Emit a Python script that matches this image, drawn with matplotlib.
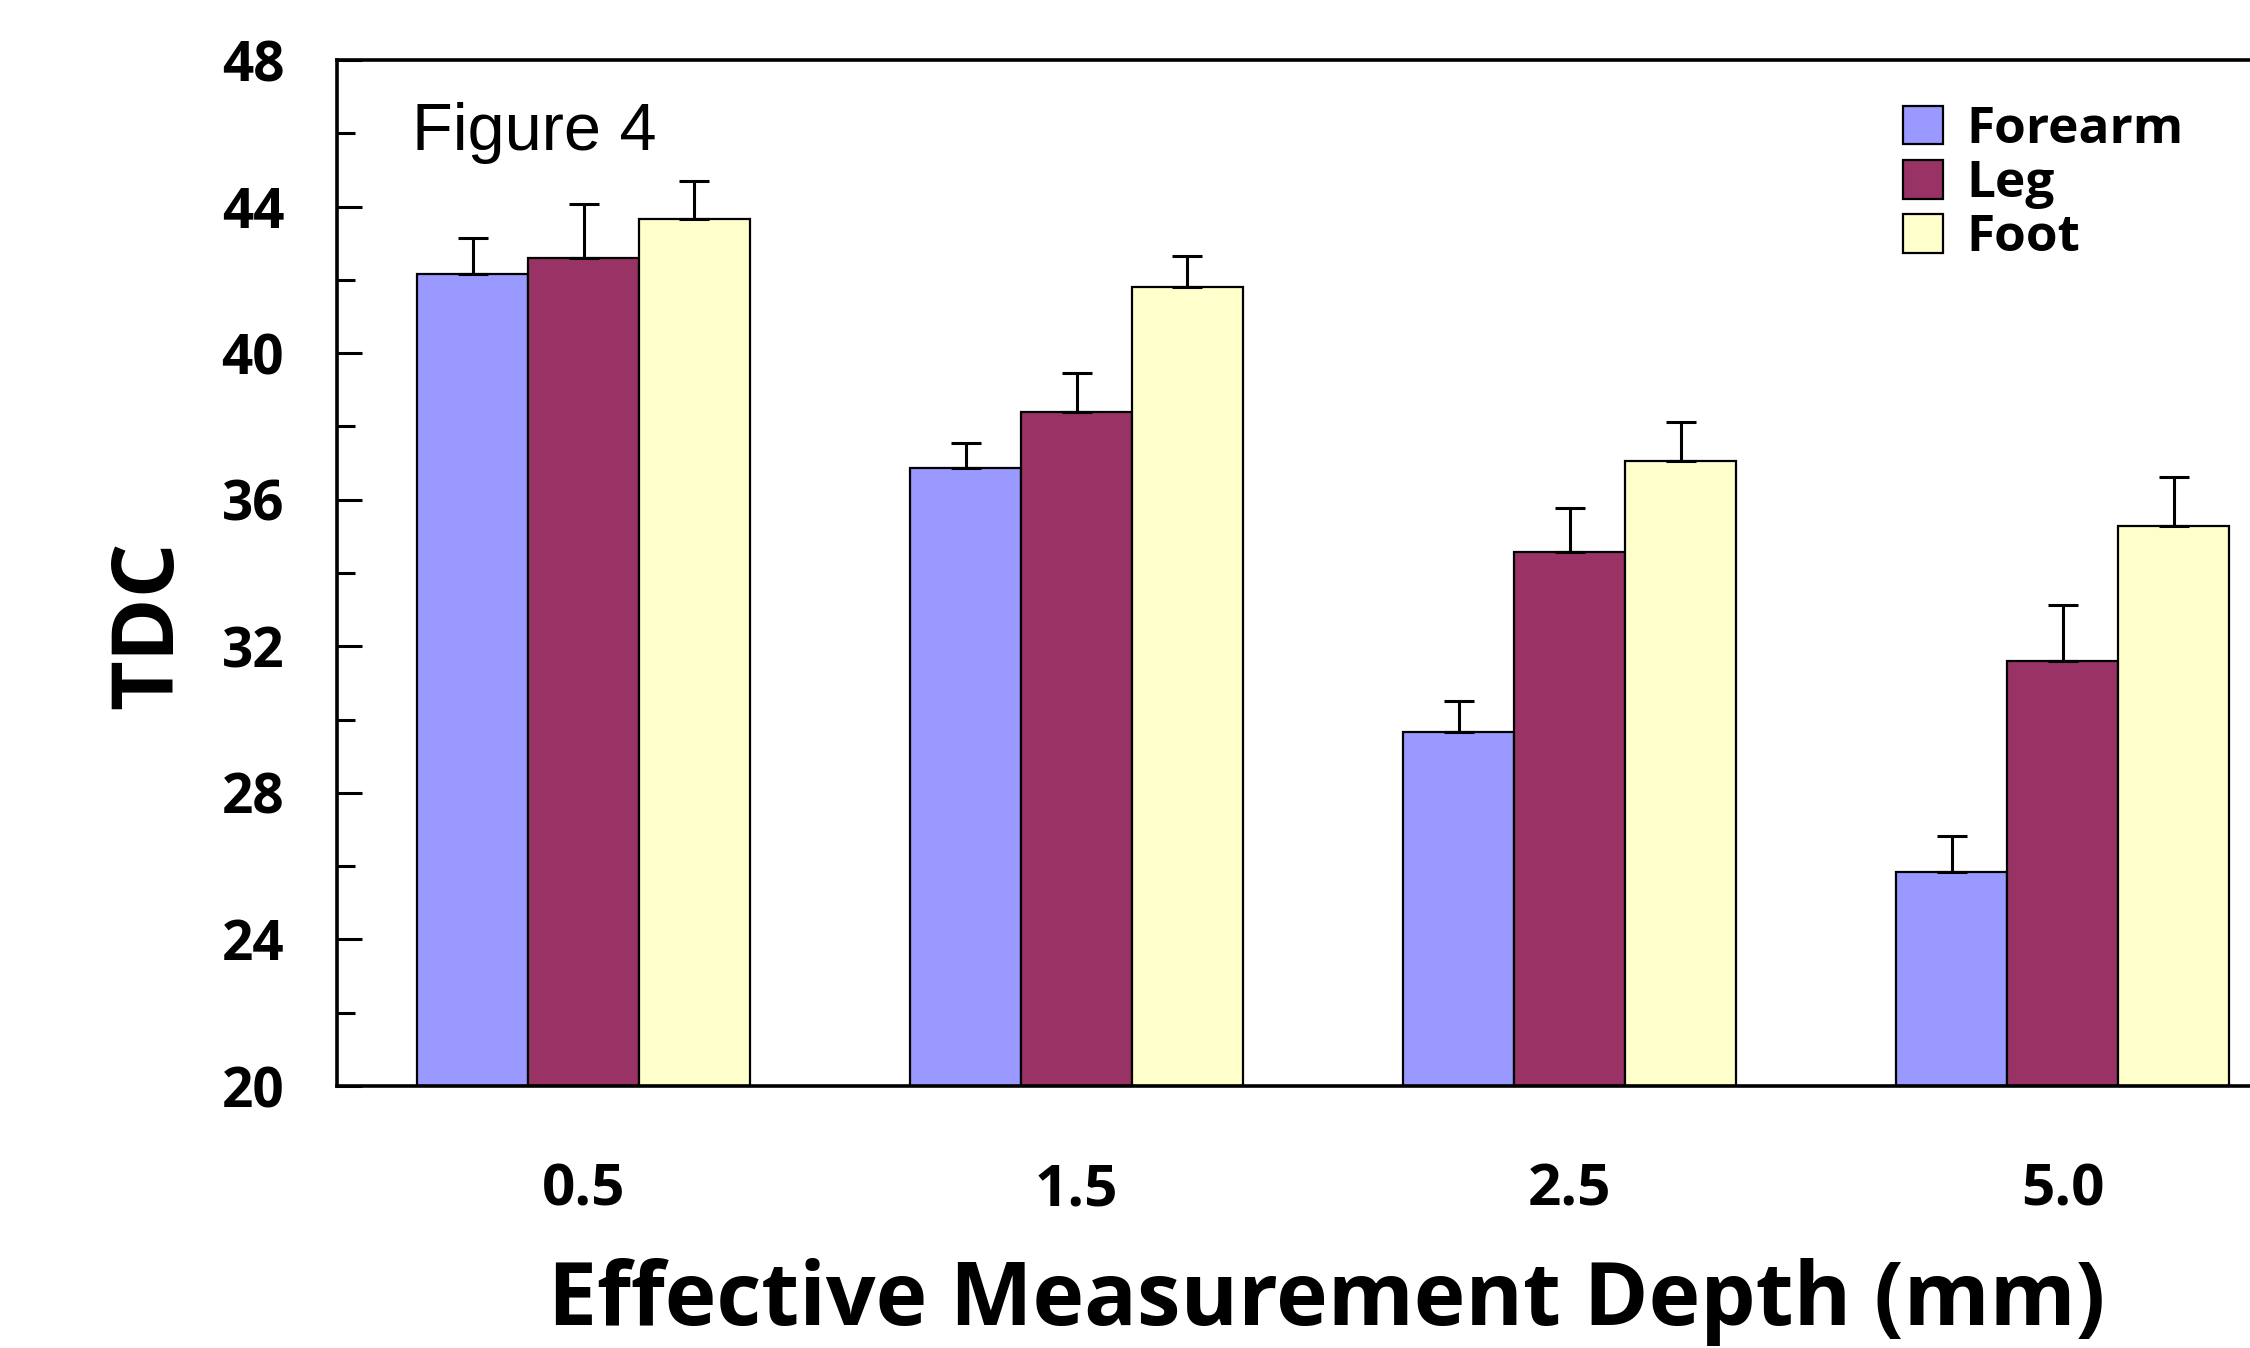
import matplotlib
matplotlib.use("Agg")
import matplotlib.pyplot as plt
import numpy as np
from matplotlib.ticker import MultipleLocator

depths = ["0.5", "1.5", "2.5", "5.0"]
series = ["Forearm", "Leg", "Foot"]
forearm = [42.16, 36.86, 29.67, 25.83]
leg = [42.59, 38.40, 34.57, 31.60]
foot = [43.65, 41.80, 37.06, 35.28]
forearm_err = [0.99, 0.70, 0.84, 1.00]
leg_err = [1.49, 1.07, 1.21, 1.54]
foot_err = [1.06, 0.86, 1.05, 1.35]
colors = ["#9999FF", "#993366", "#FFFFCC"]

W, H = 2250, 1348
fig = plt.figure(figsize=(W / 100, H / 100), dpi=100)
ax = fig.add_axes([337 / W, 1 - 1086 / H, (W - 337) / W, (1086 - 60) / H])

bold = dict(family=["Open Sans", "DejaVu Sans"], weight="bold")

x = np.arange(len(depths))
bw = 0.225
vals = [forearm, leg, foot]
errs = [forearm_err, leg_err, foot_err]
for i, (v, e, c, name) in enumerate(zip(vals, errs, colors, series)):
    pos = x + (i - 1) * bw
    ax.bar(pos, np.array(v) - 20, bottom=20, width=bw, color=c, edgecolor="black",
           linewidth=1.6, label=name, zorder=2)
    ax.errorbar(pos, v, yerr=[np.zeros(len(e)), e], fmt="none", ecolor="black",
                elinewidth=2.2, capsize=11, capthick=2.2, zorder=3)

ax.set_xlim(-0.5, 3.38)
ax.set_ylim(20, 48)
ax.yaxis.set_major_locator(MultipleLocator(4))
ax.yaxis.set_minor_locator(MultipleLocator(2))
ax.set_xticks(x)
ax.set_xticklabels(depths, fontsize=42, **bold)
ax.tick_params(axis="y", which="major", direction="in", length=18, width=2.2,
               pad=38, labelsize=39.5)
ax.tick_params(axis="y", which="minor", direction="in", length=13, width=2.2)
ax.tick_params(axis="x", length=0, pad=54)
for lab in ax.get_yticklabels():
    lab.set_fontfamily(["Open Sans", "DejaVu Sans"])
    lab.set_fontweight("bold")

for s in ["left", "top", "bottom"]:
    ax.spines[s].set_linewidth(2.6)
ax.spines["right"].set_visible(False)

fig.text(1327 / W, 1 - 1325 / H, "Effective Measurement Depth (mm)", fontsize=63,
         ha="center", va="baseline", **bold)
fig.text(150 / W, 1 - 625 / H, "TDC", fontsize=62, rotation=90, ha="center",
         va="center", **bold)
fig.text(412 / W, 1 - 150 / H, "Figure 4", fontsize=48, ha="left", va="baseline",
         family=["Liberation Sans", "DejaVu Sans"])

leg_ = ax.legend(loc="upper left", bbox_to_anchor=(1903 / W, 1 - 105 / H),
                 bbox_transform=fig.transFigure, frameon=False, borderpad=0,
                 borderaxespad=0, handlelength=0.78, handleheight=0.78,
                 handletextpad=0.45, labelspacing=0.08,
                 prop=dict(family=["Open Sans", "DejaVu Sans"], weight="bold", size=37))
for h in leg_.legend_handles:
    h.set_linewidth(1.6)

fig.savefig("out.png", dpi=100)
